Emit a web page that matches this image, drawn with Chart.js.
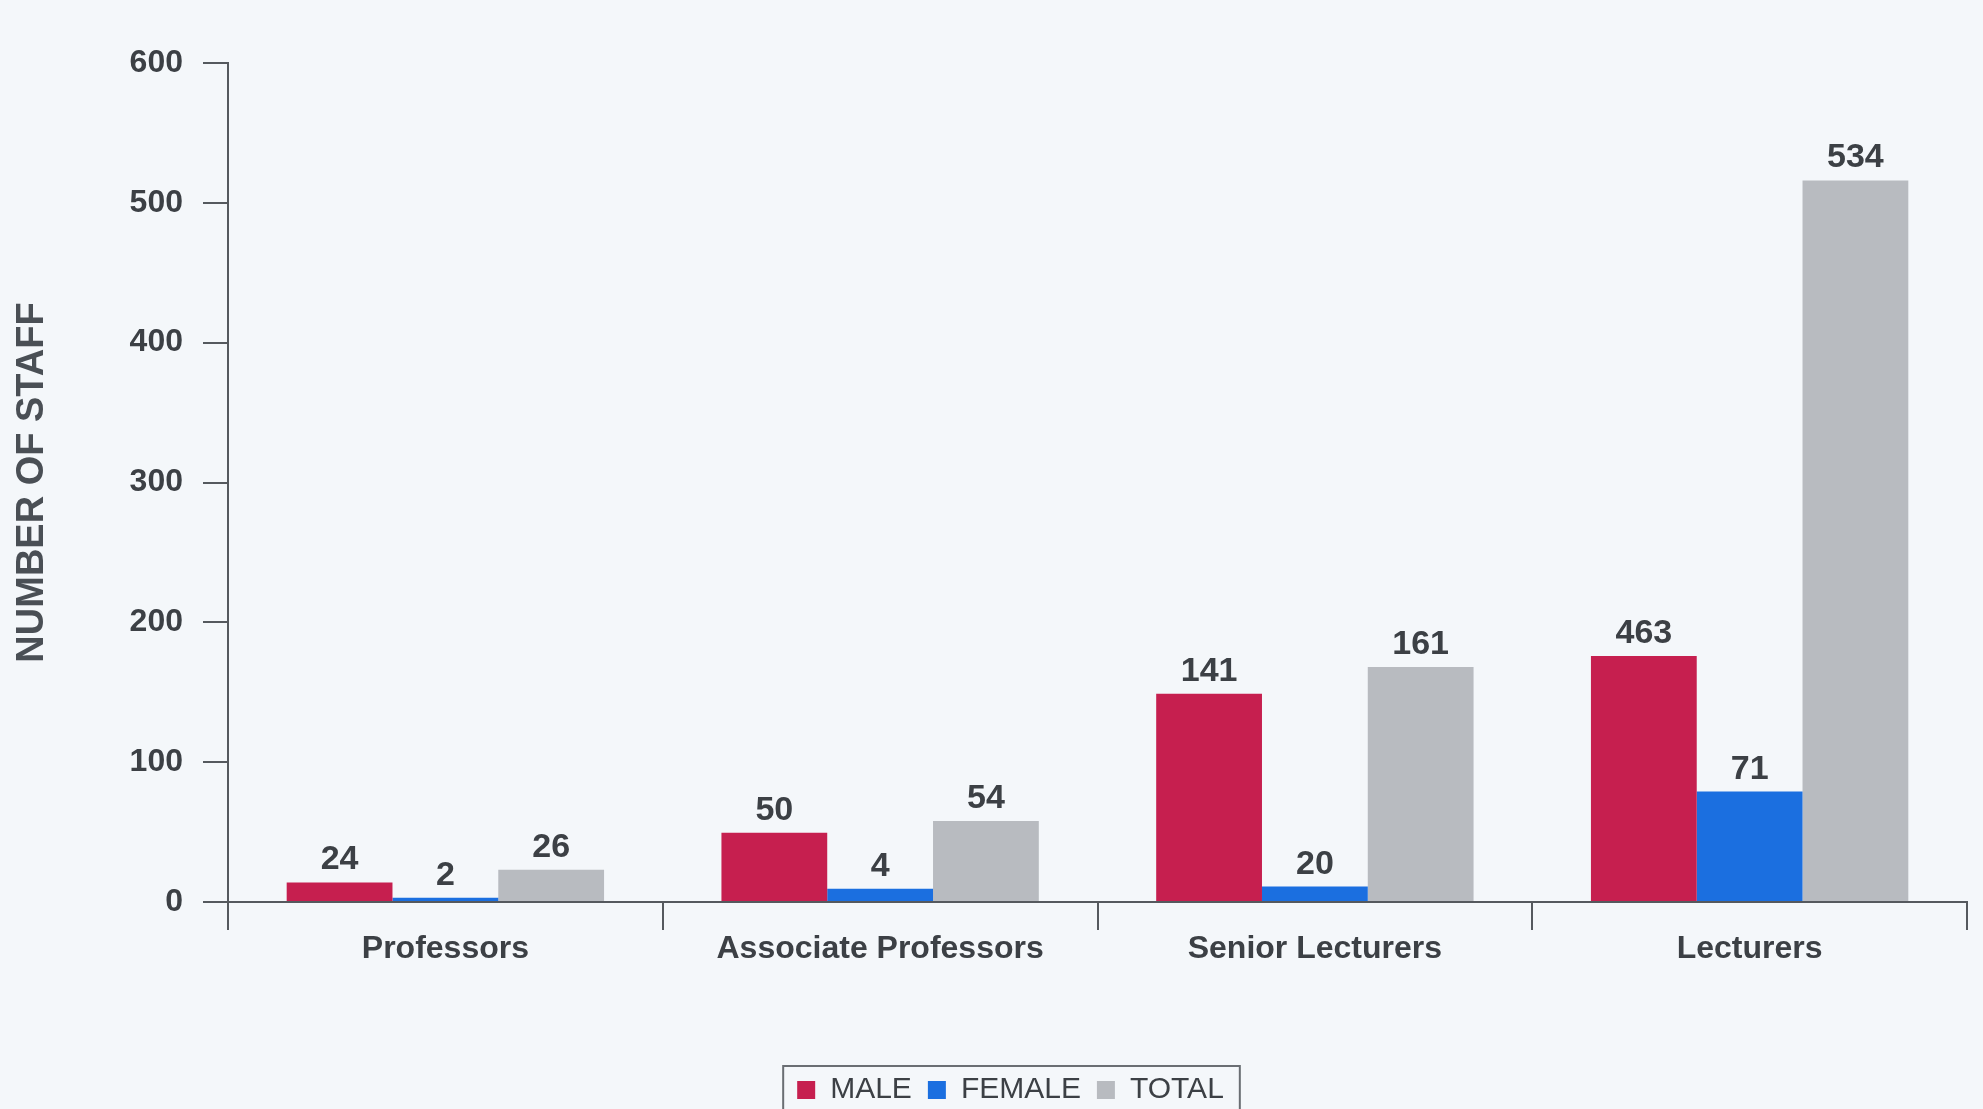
<!DOCTYPE html>
<html>
<head>
<meta charset="utf-8">
<title>Number of staff by rank</title>
<script src="https://cdn.jsdelivr.net/npm/chart.js@4.4.1/dist/chart.umd.min.js"></script>
<style>
  html, body { margin: 0; padding: 0; background: #f4f7fa; }
  #wrap { width: 1983px; height: 1109px; position: relative; }
</style>
</head>
<body>
<div id="wrap"><canvas id="chart-staff"></canvas></div>
<script>
// categories and series
const categories = ["Professors", "Associate Professors", "Senior Lecturers", "Lecturers"];
const seriesNames = ["MALE", "FEMALE", "TOTAL"];

// numbers printed above the bars
const maleLabels = [24, 50, 141, 463];
const femaleLabels = [2, 4, 20, 71];
const totalLabels = [26, 54, 161, 534];

// bar heights as drawn in the picture (the printed chart is not to scale)
const maleHeights = [14, 49.5, 149, 176];
const femaleHeights = [3, 9.5, 11, 79];
const totalHeights = [23, 58, 168, 516];

const yTicks = [0, 100, 200, 300, 400, 500, 600];

const colors = { male: "#c61f4f", female: "#1b6fe0", total: "#b8bbc0" };
const ink = "#3c4045";
const axisInk = "#55595e";
const textFont = "\"Liberation Sans\", Arial, sans-serif";

// page tint of the scanned sheet
const backgroundFill = {
  id: "backgroundFill",
  beforeDraw(chart) {
    const { ctx, width, height } = chart;
    ctx.save();
    ctx.fillStyle = "#f4f7fa";
    ctx.fillRect(0, 0, width, height);
    ctx.restore();
  },
};

// printed value above each bar
const valueLabels = {
  id: "valueLabels",
  afterDatasetsDraw(chart) {
    const { ctx } = chart;
    ctx.save();
    ctx.font = `bold 34px ${textFont}`;
    ctx.fillStyle = ink;
    ctx.textAlign = "center";
    ctx.textBaseline = "alphabetic";
    chart.data.datasets.forEach((ds, i) => {
      const meta = chart.getDatasetMeta(i);
      meta.data.forEach((bar, j) => {
        ctx.fillText(String(ds.printed[j]), bar.x, bar.y - 13);
      });
    });
    ctx.restore();
  },
};

// legend sits a little right of the page centre in the original,
// and has a thin frame round it (hit boxes get re-placed by the
// legend plugin's own afterUpdate, after this shift)
const legendFrame = {
  id: "legendFrame",
  afterLayout(chart) {
    const legend = chart.legend;
    if (!legend) return;
    legend.left += 27;
    legend.right += 27;
  },
  afterDraw(chart) {
    const legend = chart.legend;
    if (!legend || !legend.legendHitBoxes.length) return;
    const boxes = legend.legendHitBoxes;
    const last = boxes[boxes.length - 1];
    const left = boxes[0].left - 14;
    const right = last.left + last.width + 16;
    const top = boxes[0].top - 9;
    const { ctx } = chart;
    ctx.save();
    ctx.strokeStyle = "#6a6e73";
    ctx.lineWidth = 2;
    ctx.strokeRect(left, top, right - left, chart.height - top + 20);
    ctx.restore();
  },
};

new Chart(document.getElementById("chart-staff").getContext("2d"), {
  type: "bar",
  data: {
    labels: categories,
    datasets: [
      { label: seriesNames[0], data: maleHeights, printed: maleLabels, backgroundColor: colors.male },
      { label: seriesNames[1], data: femaleHeights, printed: femaleLabels, backgroundColor: colors.female },
      { label: seriesNames[2], data: totalHeights, printed: totalLabels, backgroundColor: colors.total },
    ],
  },
  options: {
    responsive: true,
    maintainAspectRatio: false,
    animation: false,
    categoryPercentage: 0.73,
    barPercentage: 1.0,
    layout: { padding: { top: 63, right: 16, left: 0, bottom: -6 } },
    plugins: {
      tooltip: { enabled: false },
      legend: {
        position: "bottom",
        labels: {
          font: { family: textFont, size: 30 },
          color: ink,
          boxWidth: 18,
          boxHeight: 18,
          padding: 16,
        },
      },
    },
    scales: {
      x: {
        afterFit: (scale) => { scale.height = 157; },
        grid: {
          offset: true,
          drawOnChartArea: false,
          drawTicks: true,
          tickLength: 28,
          color: axisInk,
          lineWidth: 2,
        },
        border: { display: true, color: axisInk, width: 2 },
        ticks: {
          font: { family: textFont, size: 32, weight: "bold" },
          color: ink,
          padding: 0,
          maxRotation: 0,
          autoSkip: false,
        },
      },
      y: {
        min: 0,
        max: 600,
        afterBuildTicks: (scale) => { scale.ticks = yTicks.map((v) => ({ value: v })); },
        afterFit: (scale) => { scale.width = 228; },
        grid: {
          drawOnChartArea: false,
          drawTicks: true,
          tickLength: 25,
          color: axisInk,
          lineWidth: 2,
        },
        border: { display: true, color: axisInk, width: 2 },
        ticks: {
          font: { family: textFont, size: 32, weight: "bold" },
          color: ink,
          padding: 20,
        },
        title: {
          display: true,
          text: "NUMBER OF STAFF",
          font: { family: textFont, size: 38, weight: "bold" },
          color: "#4a4f55",
          padding: { top: 10, bottom: 0 },
        },
      },
    },
  },
  plugins: [backgroundFill, valueLabels, legendFrame],
});
</script>
</body>
</html>
